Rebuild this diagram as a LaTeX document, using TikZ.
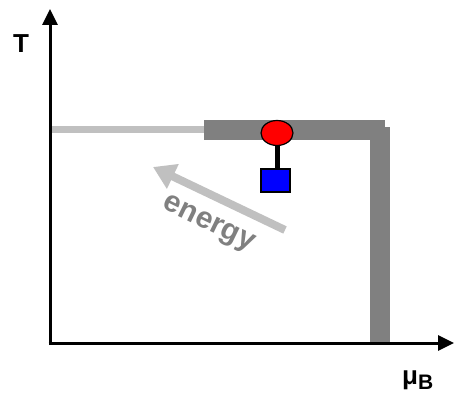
\documentclass[tikz,border=0pt]{standalone}
\usepackage{fontspec}
\setmainfont{Liberation Sans}
\usetikzlibrary{arrows.meta,shapes.geometric}
\definecolor{lightband}{RGB}{192,192,192}
\definecolor{darkband}{RGB}{128,128,128}
\begin{document}
\begin{tikzpicture}[x=1pt,y=-1pt,
  axis/.style={line width=3pt,-{Triangle[length=16pt,width=15pt]}},
  lbl/.style={font=\bfseries\fontsize{26}{30}\selectfont,inner sep=0pt},
  band/.style={fill=darkband,draw=none}]
\useasboundingbox (0,0) rectangle (455,395);
% bands
\draw[lightband,line width=7pt] (50,129.5) -- (206,129.5);
\fill[band] (204,120) rectangle (385,140);
\fill[band] (370,127) rectangle (390,343);
% axes
\coordinate (ytail) at (50,345);
\coordinate (xtail) at (48.5,343);
\coordinate (ytip) at (50,9);
\coordinate (xtip) at (454,343);
\draw[axis] (ytail) -- (ytip);
\draw[axis] (xtail) -- (xtip);
\node[lbl] (T) at (21,44) {T};
\node[lbl,anchor=base] (mu) at (418,384) {μ\textsubscript{\fontsize{21}{24}\selectfont B}};
% energy arrow
\coordinate (etail) at (285,230);
\coordinate (ehead) at (153,167);
\draw[lightband,line width=8pt,-{Triangle[length=22pt,width=26pt]}] (etail) -- (ehead);
\node[lbl,font=\bfseries\fontsize{30}{34}\selectfont,text=darkband,rotate=-26] (en) at (208,225) {energy};
% molecule
\node[draw=black,line width=1.2pt,fill=blue,minimum width=29pt,minimum height=23pt,inner sep=0pt] (sq) at (275.5,180.5) {};
\node[draw=black,line width=1.2pt,fill=red,ellipse,minimum width=32pt,minimum height=25pt,inner sep=0pt] (el) at (277,133) {};
\draw[line width=5pt] (el.south) -- (sq.north -| el.south);
\end{tikzpicture}
\end{document}
